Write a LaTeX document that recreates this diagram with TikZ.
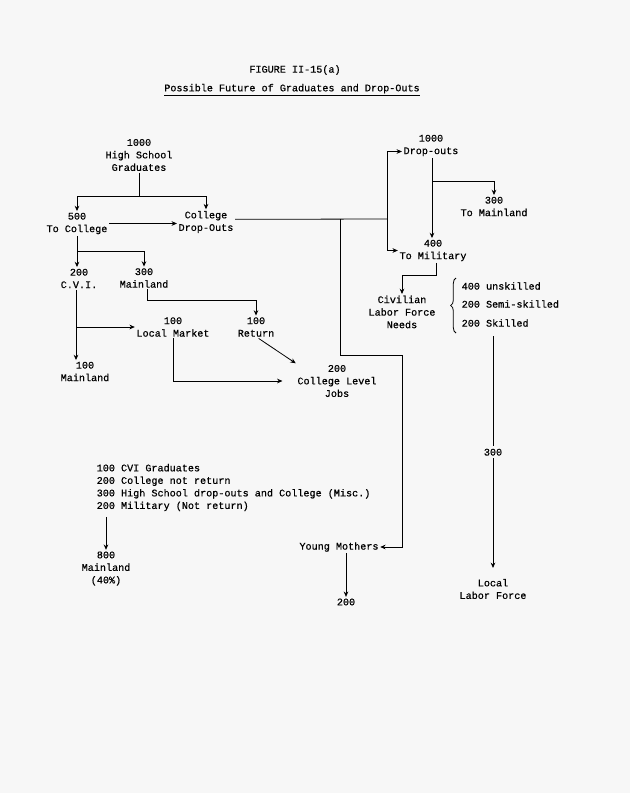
\documentclass[tikz,border=0pt]{standalone}
\usepackage{fontspec}
\setmainfont{Liberation Mono}[FakeBold=0.6]
\usetikzlibrary{arrows.meta,decorations.pathreplacing}
\definecolor{paper}{RGB}{247,247,247}
\begin{document}
\begin{tikzpicture}[x=0.75pt,y=-0.75pt,line width=0.6pt,>={Stealth[length=4pt,width=3.5pt]},
        every node/.style={font=\fontsize{7.6}{9.4}\selectfont,inner sep=1pt,align=center},
        lst/.style={anchor=west,align=left}]
    \fill[paper] (0,0) rectangle (630,793);
    \useasboundingbox (0,0) rectangle (630,793);
    \node (fig) at (295,70) {FIGURE II-15(a)};
    \node (ttl) at (292,90) {\underline{Possible Future of Graduates and Drop-Outs}};
    \node (hsg) at (139,155) {1000\\High School\\Graduates};
    \node (col) at (77,223.5) {500\\To College};
    \node (cdo) at (206,222) {College\\Drop-Outs};
    \node (cvi) at (79,278.5) {200\\C.V.I.};
    \node (mld) at (144,278) {300\\Mainland};
    \node (lm) at (173,327) {100\\Local Market};
    \node (ret) at (256,327) {100\\Return};
    \node (mld2) at (85,371.5) {100\\Mainland};
    \node (clj) at (337,381) {200\\College Level\\Jobs};
    \node (dro) at (431,145.5) {1000\\Drop-outs};
    \node (tmd) at (494,206.5) {300\\To Mainland};
    \node (mil) at (433,250.5) {400\\To Military};
    \node (clf) at (402,312) {Civilian\\Labor Force\\Needs};
    \node[lst] (sk1) at (460,286) {400 unskilled};
    \node[lst] (sk2) at (460,304) {200 Semi-skilled};
    \node[lst] (sk3) at (460,323) {200 Skilled};
    \node (llf) at (493,589) {Local\\Labor Force};
    \node[lst] (misc) at (95,487.5) {100 CVI Graduates\\200 College not return\\300 High School drop-outs and College (Misc.)\\200 Military (Not return)};
    \node (ml8) at (106,568.5) {800\\Mainland\\(40\%)};
    \node (ym) at (339,547) {Young Mothers};
    \node (ym2) at (346,602) {200};
    \coordinate (hj) at (139,196);
    \coordinate (cj) at (77,251);
    \coordinate (mj2) at (147,300);
    \coordinate (vj) at (76,327);
    \coordinate (lj) at (173,383);
    \coordinate (bus) at (387,219);
    \coordinate (tap) at (340,219);
    \coordinate (bend) at (402,355);
    \coordinate (dj) at (432,181);
    \coordinate (mj) at (436,275);
    \draw (hsg.south) -- (hj);
    \draw[->] (hj) -| (col);
    \draw[->] (hj) -| (cdo);
    \draw[->] (col.east) -- (col.east -| cdo.west);
    \draw ([yshift=2pt]cdo.east) -- (bus);
    \draw[->] (bus) |- ([yshift=-4.5pt]dro.west);
    \draw[->] (bus) |- (mil.west);
    \draw[->] (tap) |- (bend) |- (ym.east);
    \draw[->] (dj |- dro.south) -- (dj |- mil.north);
    \draw[->] (dj) -| (tmd);
    \draw[->] (mil.south -| mj) -- (mj) -| (clf);
    \draw[decorate,decoration={brace,amplitude=4pt}] (456,333) -- (456,278);
    \draw[->] (sk3.south -| llf) ++(0,8) -- node[fill=paper,inner sep=2pt] {300} ([yshift=7pt]llf.north);
    \draw[->] (col.south) -- (col.south |- cvi.north);
    \draw[->] (cj) -| (mld);
    \draw[->] (mld.south -| mj2) -- (mj2) -| (ret);
    \draw[->] (vj |- cvi.south) -- (vj |- mld2.north);
    \draw[->] (vj) -- (vj -| lm.west);
    \draw[->] (lm.south -| lj) |- ([xshift=-10pt]clj.west);
    \draw[->] ([xshift=2pt]ret.south) -- (clj.north west);
    \draw[->] (ml8 |- misc.south) ++(0,4) -- (ml8.north);
    \draw[->] (ym2 |- ym.south) -- (ym2.north);
\end{tikzpicture}
\end{document}
